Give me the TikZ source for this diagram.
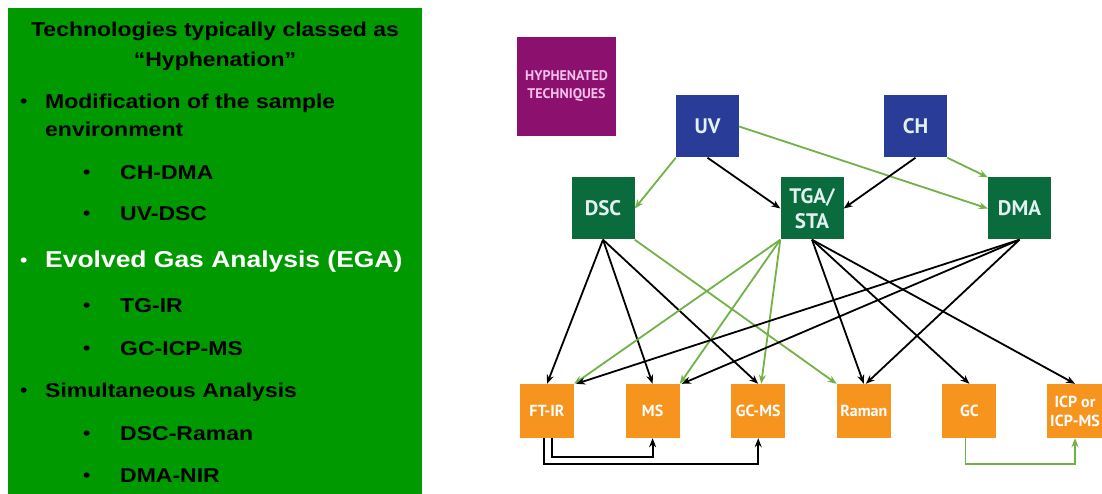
\documentclass[tikz,border=0pt]{standalone}
\usepackage{fontspec}
\setmainfont{Liberation Sans}
\newfontfamily\listfont[FakeStretch=1.15]{Liberation Sans}
\newfontfamily\boxfont{PT Sans}
\usetikzlibrary{arrows.meta}

\definecolor{panelgreen}{RGB}{0,153,0}
\definecolor{hyphpurple}{RGB}{140,16,110}
\definecolor{hyphpink}{RGB}{242,192,232}
\definecolor{sampleblue}{RGB}{40,60,152}
\definecolor{thermgreen}{RGB}{10,107,60}
\definecolor{detorange}{RGB}{247,148,30}
\definecolor{boxtext}{RGB}{225,240,240}
\definecolor{linkgreen}{RGB}{112,178,70}

\tikzstyle{panel} = [
    rectangle,
    fill=panelgreen,
    minimum width=414pt,
    minimum height=486pt,
    inner sep=0pt
]
\tikzstyle{heading} = [
    anchor=base,
    inner sep=0pt,
    font=\listfont\bfseries\fontsize{20}{24}\selectfont
]
\tikzstyle{topitem} = [
    anchor=base west,
    inner sep=0pt,
    font=\listfont\bfseries\fontsize{20}{24}\selectfont
]
\tikzstyle{egaitem} = [
    topitem,
    text=white,
    font=\listfont\bfseries\fontsize{23}{27}\selectfont
]
\tikzstyle{hyphbox} = [
    rectangle,
    fill=hyphpurple,
    text=hyphpink,
    minimum width=99pt,
    minimum height=99pt,
    align=center,
    font=\boxfont\bfseries\fontsize{14}{18}\selectfont
]
\tikzstyle{samplebox} = [
    rectangle,
    fill=sampleblue,
    text=boxtext,
    minimum width=63pt,
    minimum height=62pt,
    font=\boxfont\bfseries\fontsize{21}{25}\selectfont
]
\tikzstyle{thermalbox} = [
    samplebox,
    fill=thermgreen,
    align=center
]
\tikzstyle{detectorbox} = [
    rectangle,
    fill=detorange,
    text=white,
    minimum width=54pt,
    minimum height=54pt,
    align=center,
    font=\boxfont\bfseries\fontsize{16}{19}\selectfont
]
\tikzstyle{arrow} = [line width=1.8pt,->,>={Stealth[length=9pt,width=7pt]}]
\tikzstyle{greenarrow} = [arrow, draw=linkgreen]

\newcommand{\topdot}{\makebox[25pt][l]{\raisebox{1pt}{\fontsize{18}{18}\selectfont •}}}
\newcommand{\subdot}{\makebox[37pt][l]{\raisebox{1pt}{\fontsize{18}{18}\selectfont •}}}

\begin{document}
\begin{tikzpicture}[x=1pt, y=-1pt, node distance=105.6pt]
\useasboundingbox (0,0) rectangle (1102,494);

% left panel
\node (panel) [panel] at (215,251) {};

\node (title) [heading] at (215,37) {Technologies typically classed as};
\node (title2) [heading] at (215,67) {“Hyphenation”};

\node (modif) [topitem] at (20,109) {\topdot Modification of the sample};
\node (modif2) [topitem] at (45,137) {environment};
\node (chdma) [topitem] at (83,180) {\subdot CH-DMA};
\node (uvdsc) [topitem] at (83,221) {\subdot UV-DSC};

\node (ega) [egaitem] at (20,267) {\topdot Evolved Gas Analysis (EGA)};
\node (tgir) [topitem] at (83,312) {\subdot TG-IR};
\node (gcicp) [topitem] at (83,355) {\subdot GC-ICP-MS};

\node (simul) [topitem] at (20,397) {\topdot Simultaneous Analysis};
\node (dscraman) [topitem] at (83,440) {\subdot DSC-Raman};
\node (dmanir) [topitem] at (83,482) {\subdot DMA-NIR};

% hyphenated techniques
\node (hyph) [hyphbox] at (566.5,86.5) {HYPHENATED\\TECHNIQUES};

\node (uv) [samplebox] at (707.5,126.5) {UV};
\node (ch) [samplebox, node distance=208pt, right of=uv] {CH};

\node (dsc) [thermalbox] at (603,208.5) {DSC};
\node (tga) [thermalbox, node distance=209pt, right of=dsc] {TGA/\\STA};
\node (dma) [thermalbox, node distance=207.5pt, right of=tga] {DMA};

\node (ftir) [detectorbox] at (547,411) {FT-IR};
\node (ms) [detectorbox, right of=ftir] {MS};
\node (gcms) [detectorbox, right of=ms] {GC-MS};
\node (raman) [detectorbox, right of=gcms] {Raman};
\node (gc) [detectorbox, right of=raman] {GC};
\node (icp) [detectorbox, right of=gc] {ICP or\\ICP-MS};

\draw [greenarrow] (uv.south west) -- (dsc.east);
\draw [arrow] (uv.south) -- (tga.west);
\draw [greenarrow] (uv.east) -- (dma.west);
\draw [arrow] (ch.south) -- (tga.east);
\draw [greenarrow] (ch.south east) -- (dma.north west);

\draw [arrow] (dsc.south) -- (ftir.north);
\draw [arrow] (dsc.south) -- (ms.north);
\draw [arrow] (dsc.south) -- (gcms.north);
\draw [greenarrow] (dsc.south east) -- (raman.north west);

\draw [greenarrow] (tga.south west) -- (ftir.north east);
\draw [greenarrow] (tga.south west) -- (ms.north east);
\draw [greenarrow] (tga.south west) -- ([xshift=3pt]gcms.north);
\draw [arrow] (tga.south) -- (raman.north);
\draw [arrow] (tga.south) -- (gc.north);
\draw [arrow] (tga.south) -- (icp.north);

\draw [arrow] (dma.south) -- ([xshift=2pt]ftir.north east);
\draw [arrow] (dma.south) -- ([xshift=2pt]ms.north east);
\draw [arrow] (dma.south) -- ([xshift=2pt]raman.north);

% hyphenated couplings
\draw [arrow] ([xshift=5pt]ftir.south) -- ++(0,19) -| (ms.south);
\draw [arrow] ([xshift=-3pt]ftir.south) -- ++(0,26) -| (gcms.south);
\draw [greenarrow] ([xshift=-4pt]gc.south) -- ++(0,26) -| (icp.south);

\end{tikzpicture}
\end{document}
